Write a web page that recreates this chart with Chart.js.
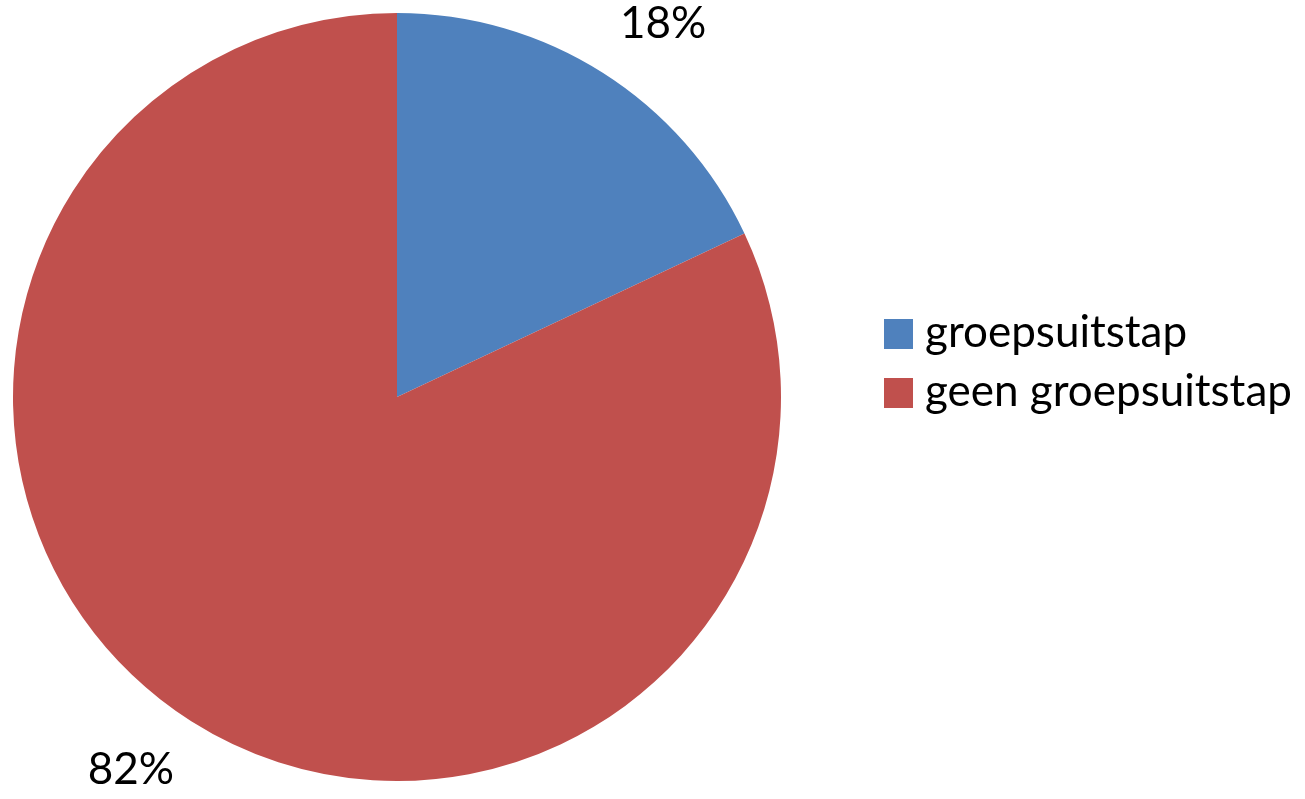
<!DOCTYPE html>
<html>
<head>
<meta charset="utf-8">
<script src="https://cdn.jsdelivr.net/npm/chart.js@4.4.0/dist/chart.umd.min.js"></script>
<style>
  html, body { margin: 0; padding: 0; background: #fff; }
  #wrap { width: 1305px; height: 799px; position: relative; }
</style>
</head>
<body>
<div id="wrap"><canvas id="pieChart"></canvas></div>
<script>
// pie data
const labels = ['groepsuitstap', 'geen groepsuitstap'];
const values = [18, 82];
const colors = ['#4F81BD', '#C0504D'];

const FONT = 'Lato, "Open Sans", sans-serif';

// percentage labels outside the slices
const pctLabels = {
    id: 'pctLabels',
    afterDatasetsDraw(chart) {
        const ctx = chart.ctx;
        const meta = chart.getDatasetMeta(0);
        const total = values.reduce((a, b) => a + b, 0);
        ctx.save();
        ctx.font = '44px ' + FONT;
        ctx.fillStyle = '#000';
        meta.data.forEach((arc, i) => {
            const mid = (arc.startAngle + arc.endAngle) / 2;
            const r = arc.outerRadius + 32;
            const x = arc.x + Math.cos(mid) * r;
            const y = arc.y + Math.sin(mid) * r;
            ctx.textAlign = x > arc.x ? 'left' : 'right';
            ctx.textBaseline = y < arc.y ? 'bottom' : 'top';
            ctx.fillText(Math.round(values[i] / total * 100) + '%', x, y);
        });
        ctx.restore();
    }
};

// legend on the right
const sideLegend = {
    id: 'sideLegend',
    afterDraw(chart) {
        const ctx = chart.ctx;
        const x0 = chart.chartArea.right + 103;
        const y0 = 319;
        ctx.save();
        ctx.font = '44px ' + FONT;
        ctx.fillStyle = '#000';
        ctx.textBaseline = 'alphabetic';
        ctx.textAlign = 'left';
        labels.forEach((lab, i) => {
            const y = y0 + i * 59;
            ctx.fillStyle = colors[i];
            ctx.fillRect(x0, y, 29, 30);
            ctx.fillStyle = '#000';
            ctx.fillText(lab, x0 + 41, y + 28);
        });
        ctx.restore();
    }
};

document.addEventListener('DOMContentLoaded', () => {
    const ctx = document.getElementById('pieChart').getContext('2d');
    new Chart(ctx, {
        type: 'pie',
        data: {
            labels: labels,
            datasets: [{
                data: values,
                backgroundColor: colors,
                borderWidth: 0
            }]
        },
        options: {
            responsive: true,
            maintainAspectRatio: false,
            animation: false,
            layout: { padding: { left: 13, top: 13, right: 524, bottom: 18 } },
            plugins: {
                legend: { display: false },
                tooltip: { enabled: false }
            }
        },
        plugins: [pctLabels, sideLegend]
    });
});
</script>
</body>
</html>
